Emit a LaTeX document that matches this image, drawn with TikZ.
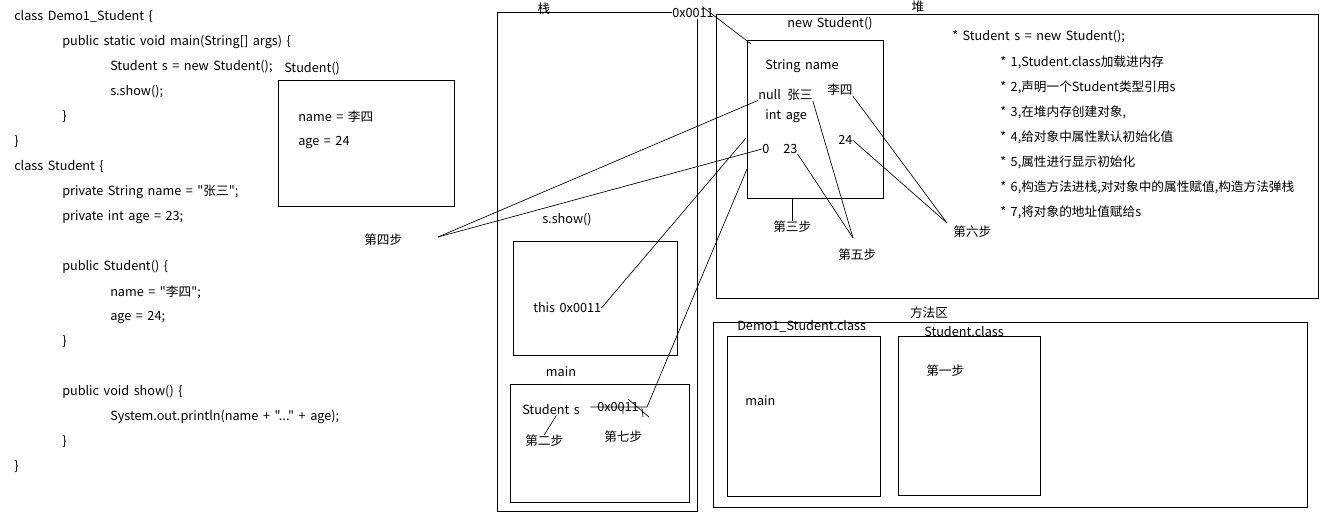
\documentclass[tikz,border=0pt]{standalone}
\usepackage{fontspec}
\setmainfont{Noto Sans CJK SC}[Ligatures=TeXOff,WordSpace=1.6]

\begin{document}
\begin{tikzpicture}[x=0.75pt,y=-0.75pt,
  txt/.style={anchor=west,inner sep=0pt,font=\fontsize{9.5}{11}\selectfont},
  lbl/.style={txt,anchor=center},
  box/.style={draw,line width=0.75pt,inner sep=0pt},
  link/.style={line width=0.5pt}]
\useasboundingbox (0,0) rectangle (1333,521);

% Source code
\node[txt] (c1) at (14,17) {class Demo1\_Student \{};
\node[txt] (c2) at (62,42) {public static void main(String[] args) \{};
\node[txt] (c3) at (110,67) {Student s = new Student();};
\node[txt] (c4) at (110,92) {s.show();};
\node[txt] (c5) at (62,117) {\}};
\node[txt] (c6) at (14,142) {\}};
\node[txt] (c7) at (14,167) {class Student \{};
\node[txt] (c8) at (62,192) {private String name = "张三";};
\node[txt] (c9) at (62,217) {private int age = 23;};
\node[txt] (c10) at (62,267) {public Student() \{};
\node[txt] (c11) at (110,292) {name = "李四";};
\node[txt] (c12) at (110,317) {age = 24;};
\node[txt] (c13) at (62,342) {\}};
\node[txt] (c14) at (62,392) {public void show() \{};
\node[txt] (c15) at (110,417) {System.out.println(name + "..." + age);};
\node[txt] (c16) at (62,442) {\}};
\node[txt] (c17) at (14,467) {\}};

% Constructor frame
\node[box,minimum width=176*0.75pt,minimum height=126*0.75pt] (ctor) at (366,143) {};
\node[txt] (ctorlbl) at (284,69) {Student()};
\node[txt] (ctorname) at (298,117) {name = 李四};
\node[txt] (ctorage) at (298,142) {age = 24};
\node[txt] (step4) at (364,240) {第四步};
\coordinate (p4) at (438,237);

% Stack
\node[box,minimum width=200*0.75pt,minimum height=499*0.75pt] (stack) at (597,261.5) {};
\node[lbl] (stacklbl) at (544,9) {栈};
\node[box,minimum width=164*0.75pt,minimum height=114*0.75pt] (show) at (595,298) {};
\node[lbl] (showlbl) at (567,220) {s.show()};
\node[txt] (thisref) at (533,308) {this 0x0011};
\node[box,minimum width=179*0.75pt,minimum height=118*0.75pt] (mainf) at (599.5,443) {};
\node[lbl] (mainlbl) at (561,372) {main};
\node[txt] (svar) at (522,410) {Student s};
\node[txt] (sref) at (597,407) {0x0011};
\node[txt] (step2) at (525,441) {第二步};
\node[txt] (step7) at (604,437) {第七步};

% Heap
\node[box,minimum width=602*0.75pt,minimum height=284*0.75pt] (heap) at (1017,156) {};
\node[lbl] (heaplbl) at (918,7) {堆};
\node[txt,fill=white,inner ysep=1pt] (oref) at (672,13) {0x0011};
\node[box,minimum width=136*0.75pt,minimum height=158*0.75pt] (obj) at (815,119) {};
\node[lbl] (objlbl) at (830,24) {new Student()};
\node[txt] (fname) at (765,66) {String name};
\node[txt] (nul) at (758,95) {null};
\node[txt] (zs) at (787,95) {张三};
\node[txt] (ls) at (827,90) {李四};
\node[txt] (fage) at (765,116) {int age};
\node[txt] (zero) at (762,149) {0};
\node[txt] (n23) at (783,149) {23};
\node[txt] (n24) at (838,140) {24};
\node[txt] (step3) at (773,227) {第三步};
\node[txt] (step5) at (838,255) {第五步};
\node[txt] (step6) at (953,232) {第六步};
\coordinate (p5) at (853,238);
\coordinate (p6) at (947,223);
\coordinate (objtl) at (751,44);
\coordinate (objin1) at (746,138);
\coordinate (objin2) at (747,169);

% Steps
\node[txt] (n0) at (952,37) {* Student s = new Student();};
\node[txt] (n1) at (1000,62) {* 1,Student.class加载进内存};
\node[txt] (n2) at (1000,87) {* 2,声明一个Student类型引用s};
\node[txt] (n3) at (1000,112) {* 3,在堆内存创建对象,};
\node[txt] (n4) at (1000,137) {* 4,给对象中属性默认初始化值};
\node[txt] (n5) at (1000,162) {* 5,属性进行显示初始化};
\node[txt] (n6) at (1000,187) {* 6,构造方法进栈,对对象中的属性赋值,构造方法弹栈};
\node[txt] (n7) at (1000,212) {* 7,将对象的地址值赋给s};

% Method area
\node[box,minimum width=594*0.75pt,minimum height=185*0.75pt] (method) at (1010,414.5) {};
\node[lbl] (methodlbl) at (929,313) {方法区};
\node[box,minimum width=153*0.75pt,minimum height=160*0.75pt] (democls) at (803.5,416) {};
\node[txt] (demolbl) at (737,326) {Demo1\_Student.class};
\node[txt] (mainm) at (745,401) {main};
\node[box,minimum width=142*0.75pt,minimum height=159*0.75pt] (stucls) at (969,415.5) {};
\node[txt] (stulbl) at (924,332) {Student.class};
\node[txt] (step1) at (926,371) {第一步};

% Connectors
\draw[link] ([xshift=7pt]oref.north) -- (objtl);
\draw[link] (nul.south west) -- (p4);
\draw[link] (zero.west) -- (p4);
\draw[link] (thisref.east) -- (objin1);
\draw[link] ([xshift=-5pt]sref.west) -- ([xshift=6pt]sref.east) -- (objin2);
\draw[link] (623,407) -- (623,414) (642,408) -- (643,417) (628,399) -- (649,417);
\draw[link] ([xshift=4pt]svar.south) -- (step2.north);
\draw[link] (obj.south -| step3.north) -- (step3.north);
\draw[link] (zs.south east) -- (p5);
\draw[link] (n23.south east) -- (p5);
\draw[link] (ls.south east) -- (p6);
\draw[link] (n24.east) -- (p6);

\end{tikzpicture}
\end{document}
